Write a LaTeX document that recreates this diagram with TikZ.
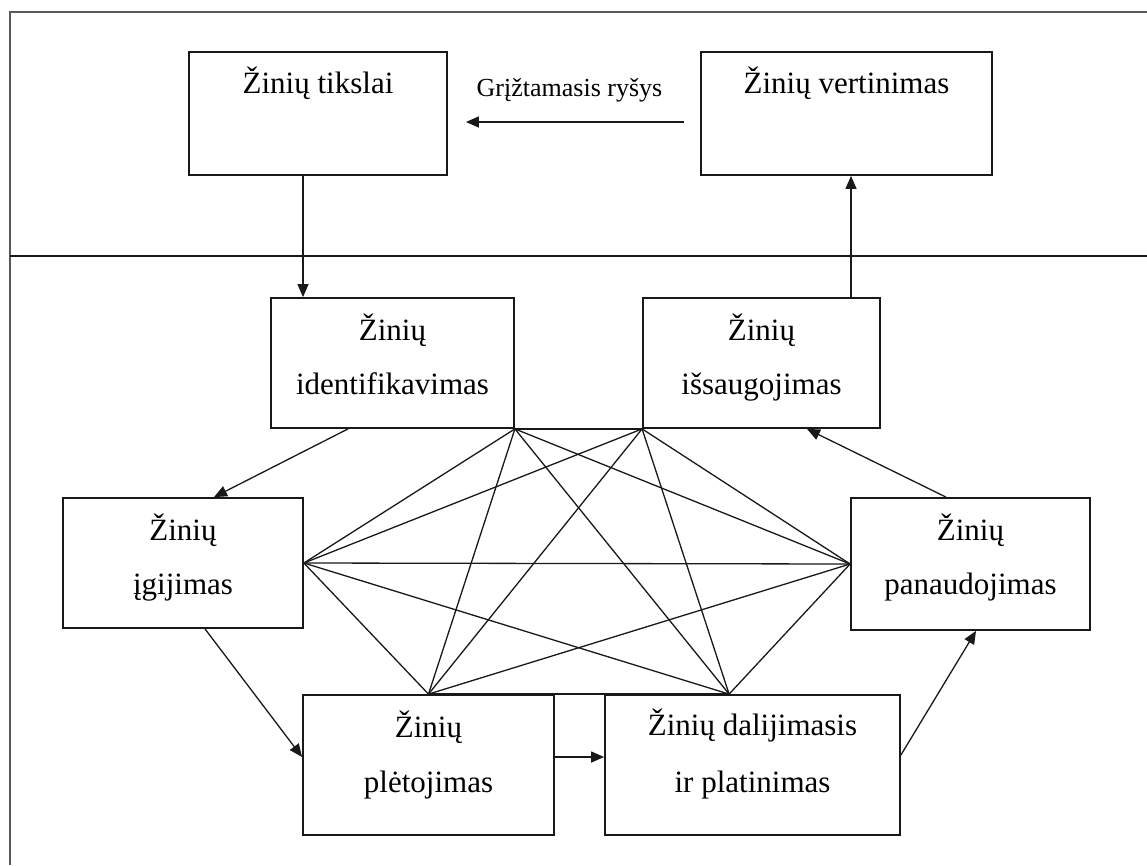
\documentclass[tikz,border=0pt]{standalone}
\usepackage{fontspec}
\setmainfont{Liberation Serif}
\usetikzlibrary{arrows.meta}
% two centred lines; the first baseline is the box baseline
\newcommand{\twoline}[3][0pt]{\begin{tabular}[t]{@{}c@{}}#2\\[#1]#3\end{tabular}}
\begin{document}
\begin{tikzpicture}[x=1pt,y=-1pt,
  box/.style={draw=black!90, line width=1.8pt, rectangle, inner sep=0pt,
              font=\fontsize{31}{54}\selectfont},
  link/.style={line width=1.3pt, draw=black!90},
  arr/.style={link, -{Triangle[length=13pt,width=11pt]}},
  caption/.style={font=\fontsize{26}{30}\selectfont, inner sep=0pt, anchor=base},
]
\useasboundingbox (0,0) rectangle (1147,865);
\fill[white] (0,0) rectangle (1147,865);

% outer frame and the divider between the two levels
\draw[line width=2.6pt, draw=black!65] (10,865) -- (10,12) -- (1147,12);
\draw[line width=2pt, draw=black!90] (10,256) -- (1147,256);

% upper level
\node[box, minimum width=258pt, text height=41pt, text depth=82pt] (tik) at (318,113.5) {Žinių tikslai};
\node[box, minimum width=291pt, text height=41pt, text depth=82pt] (vert) at (846.5,113.5) {Žinių vertinimas};

% lower level
\node[box, minimum width=243pt, text height=42pt, text depth=88pt] (ident) at (392.5,363) {\twoline{Žinių}{identifikavimas}};
\node[box, minimum width=237pt, text height=42pt, text depth=88pt] (issaug) at (761.5,363) {\twoline{Žinių}{išsaugojimas}};
\node[box, minimum width=240pt, text height=42pt, text depth=88pt] (igij) at (183,563) {\twoline{Žinių}{įgijimas}};
\node[box, minimum width=239pt, text height=42pt, text depth=90pt] (panaud) at (970.5,564) {\twoline{Žinių}{panaudojimas}};
\node[box, minimum width=251pt, text height=42pt, text depth=98pt] (pletoj) at (428.5,765) {\twoline[1pt]{Žinių}{plėtojimas}};
\node[box, minimum width=295pt, text height=40pt, text depth=100pt] (dalij) at (752.5,765) {\twoline[3pt]{Žinių dalijimasis}{ir platinimas}};

% every process is linked with every other one
\coordinate (A) at (ident.south east);
\coordinate (B) at (issaug.south west);
\coordinate (C) at (igij.east);
\coordinate (D) at (panaud.west);
\coordinate (E) at (pletoj.north);
\coordinate (F) at ([xshift=125pt]dalij.north west);
\foreach \p/\q in {A/B,A/C,A/D,A/E,A/F,B/C,B/D,B/E,B/F,C/D,C/E,C/F,D/E,D/F,E/F}
  \draw[link] (\p) -- (\q);

% cycle of the processes
\draw[arr] ([xshift=-15pt]tik.south) -- ([xshift=-15pt]tik.south |- ident.north);
\draw[arr] ([xshift=-44.5pt]ident.south) -- ([xshift=31pt]igij.north);
\draw[arr] ([xshift=22pt]igij.south) -- ([yshift=8pt]pletoj.west);
\draw[arr] ([yshift=8pt]pletoj.east) -- ([yshift=8pt]pletoj.east -| dalij.west);
\draw[arr] ([yshift=10pt]dalij.east) -- ([xshift=5.5pt]panaud.south);
\draw[arr] ([xshift=-24.5pt]panaud.north) -- ([xshift=45.5pt]issaug.south);
\draw[arr] ([xshift=89.5pt]issaug.north) -- ([xshift=89.5pt]issaug.north |- vert.south);

% feedback
\coordinate (fb) at ([yshift=-8.5pt]vert.west);
\draw[arr, shorten <=16pt, shorten >=18pt] (fb) -- (fb -| tik.east);
\node[caption] (fblabel) at (569.5,96) {Grįžtamasis ryšys};
\end{tikzpicture}
\end{document}
